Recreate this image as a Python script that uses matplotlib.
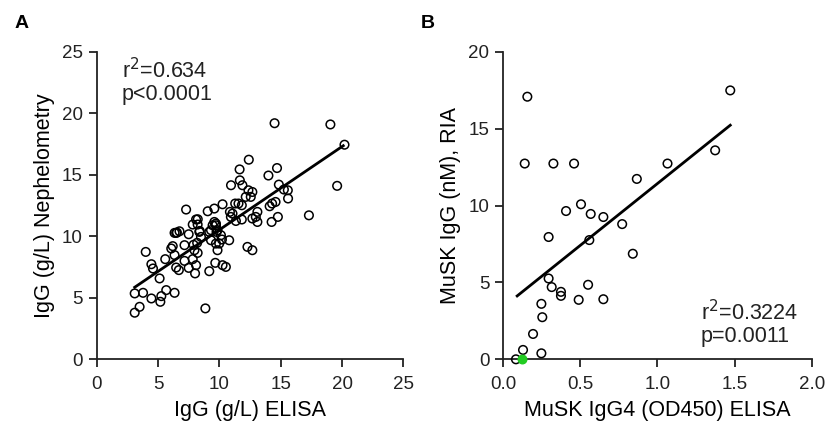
import numpy as np
import matplotlib
matplotlib.use("Agg")
import matplotlib.pyplot as plt

plt.rcParams['font.family'] = ['Liberation Sans', 'DejaVu Sans']

# panel A: ELISA vs nephelometry IgG (g/L)
elisa_a = [14.5, 19.05, 20.2, 19.6, 17.3, 12.4, 11.65, 14.7, 14.0, 10.95,
           11.67, 11.88, 12.37, 12.56, 12.15, 12.69, 14.85, 15.26, 15.58, 15.6,
           14.58, 14.3, 14.1, 14.26, 14.77, 10.26, 9.59, 9.05, 7.29, 11.29,
           11.56, 11.83, 10.86, 11.07, 10.94, 11.83, 11.35, 13.1, 12.97, 12.69,
           13.1, 8.1, 7.83, 8.23, 9.59, 9.45, 9.72, 9.32, 9.85, 10.13,
           10.8, 10.21, 9.72, 9.85, 6.48, 6.75, 7.5, 8.37, 8.5, 9.18,
           9.72, 9.77, 9.32, 9.99, 12.29, 12.69, 4.0, 6.2, 6.08, 7.16,
           7.97, 8.23, 5.59, 6.35, 7.16, 7.83, 4.46, 4.59, 6.48, 6.7,
           7.5, 8.1, 8.02, 9.18, 9.67, 10.26, 10.53, 5.13, 3.1, 3.78,
           4.46, 5.27, 5.67, 6.35, 5.19, 3.5, 3.1, 8.86, 8.24, 6.54,
           6.35, 8.4, 7.9, 8.19]
neph_a = [19.2, 19.1, 17.45, 14.1, 11.7, 16.23, 15.44, 15.55, 14.94, 14.15,
          14.55, 14.15, 13.74, 13.2, 13.2, 13.6, 14.2, 13.8, 13.74, 13.07,
          12.79, 12.66, 12.44, 11.16, 11.57, 12.6, 12.25, 12.03, 12.17, 12.66,
          12.66, 12.52, 11.98, 11.84, 11.57, 11.36, 11.24, 11.98, 11.57, 11.44,
          11.16, 11.36, 10.95, 10.95, 11.16, 10.89, 10.89, 10.49, 10.49, 10.08,
          9.67, 9.73, 9.4, 8.86, 10.27, 10.4, 10.16, 10.35, 9.94, 10.35,
          11.03, 10.35, 9.67, 9.4, 9.13, 8.86, 8.72, 9.19, 9.0, 9.27,
          8.86, 8.64, 8.13, 8.46, 7.99, 8.13, 7.72, 7.37, 7.45, 7.24,
          7.42, 7.64, 6.97, 7.15, 7.83, 7.64, 7.5, 6.56, 5.34, 5.39,
          4.93, 5.12, 5.61, 5.39, 4.66, 4.25, 3.77, 4.12, 11.38, 10.3,
          10.27, 10.43, 9.3, 9.46]

# panel B: MuSK IgG4 ELISA (OD450) vs MuSK IgG RIA (nM)
od450_b = [0.156, 1.472, 1.374, 0.139, 0.325, 0.459, 1.065, 0.866, 0.504, 0.407,
           0.567, 0.649, 0.771, 0.294, 0.558, 0.840, 0.294, 0.314, 0.374, 0.374,
           0.55, 0.489, 0.649, 0.247, 0.253, 0.193, 0.128, 0.247, 0.082]
ria_b = [17.09, 17.5, 13.6, 12.74, 12.74, 12.74, 12.74, 11.74, 10.09, 9.65,
         9.46, 9.26, 8.8, 7.96, 7.76, 6.87, 5.26, 4.7, 4.39, 4.13,
         4.85, 3.87, 3.91, 3.61, 2.74, 1.65, 0.61, 0.39, 0.0]
green_b = (0.123, 0.0)

# regression lines
fit_a = (0.678, 3.74)   # slope, intercept
fit_b = (8.04, 3.40)


def style_axis(ax):
    for s in ['top', 'right']:
        ax.spines[s].set_visible(False)
    for s in ['left', 'bottom']:
        ax.spines[s].set_linewidth(1.3)
        ax.spines[s].set_color('#222222')
    ax.tick_params(direction='out', length=6, width=1.3, labelsize=13.5,
                   colors='#222222', pad=4)
    ax.tick_params(axis='x', pad=6)


fig = plt.figure(figsize=(8.29, 4.34), dpi=100)
ax1 = fig.add_axes([0.1166, 0.1728, 0.370, 0.7074])
ax2 = fig.add_axes([0.6071, 0.1721, 0.372, 0.7081])

# A
ax1.scatter(elisa_a, neph_a, s=38, facecolors='none', edgecolors='black',
            linewidths=1.1, zorder=3)
xa = np.array([min(elisa_a), max(elisa_a) - 0.1])
ax1.plot(xa, fit_a[0] * xa + fit_a[1], color='black', lw=2, zorder=4)
ax1.set_xlim(0, 25)
ax1.set_ylim(0, 25)
ax1.set_xticks(np.arange(0, 26, 5))
ax1.set_yticks(np.arange(0, 26, 5))
ax1.set_xlabel('IgG (g/L) ELISA', fontsize=15.5, labelpad=5)
ax1.set_ylabel('IgG (g/L) Nephelometry', fontsize=15.5, labelpad=5)
ax1.text(2.05, 24.5, 'r$^2$=0.634\np<0.0001', fontsize=15.5, va='top',
         linespacing=1.05, color='#222222')
style_axis(ax1)

# B
ax2.scatter(od450_b, ria_b, s=38, facecolors='none', edgecolors='black',
            linewidths=1.1, zorder=3, clip_on=False)
ax2.scatter([green_b[0]], [green_b[1]], s=38, color='#22cc22', zorder=5,
            clip_on=False)
xb = np.array([0.09, max(od450_b)])
ax2.plot(xb, fit_b[0] * xb + fit_b[1], color='black', lw=2, zorder=4)
ax2.set_xlim(0, 2.0)
ax2.set_ylim(0, 20)
ax2.set_xticks([0.0, 0.5, 1.0, 1.5, 2.0])
ax2.set_xticklabels(['0.0', '0.5', '1.0', '1.5', '2.0'])
ax2.set_yticks([0, 5, 10, 15, 20])
ax2.set_xlabel('MuSK IgG4 (OD450) ELISA', fontsize=15.5, labelpad=5)
ax2.set_ylabel('MuSK IgG (nM), RIA', fontsize=15.5, labelpad=5)
ax2.text(1.28, 3.85, 'r$^2$=0.3224\np=0.0011', fontsize=15.5, va='top',
         linespacing=1.05, color='#222222')
style_axis(ax2)

fig.text(0.018, 0.935, 'A', fontsize=14, fontweight='bold')
fig.text(0.508, 0.935, 'B', fontsize=14, fontweight='bold')

fig.savefig('out.png', dpi=100)
